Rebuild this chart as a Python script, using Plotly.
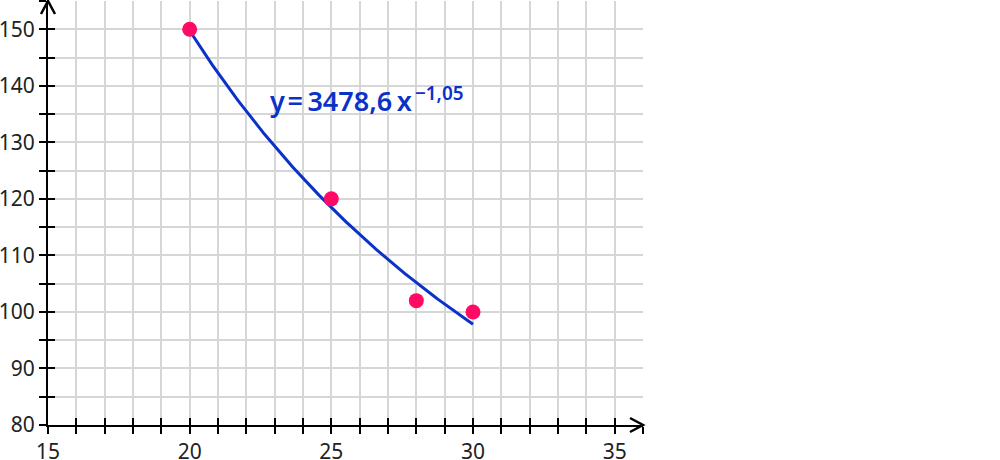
import plotly.graph_objects as go
import numpy as np

# data
x_points = [20, 25, 28, 30]
y_points = [150, 120, 102, 100]
coef_a = 3478.6
coef_b = -1.05
fit_x = np.linspace(20, 30, 200)
fit_y = coef_a * fit_x ** coef_b
x_tickvals = [15, 20, 25, 30, 35]
y_tickvals = [80, 90, 100, 110, 120, 130, 140, 150]

FONT = "Noto Sans"
GRID = "#d6d6d6"
TICKFONT = dict(family=FONT, size=21, color="#222")

fig = go.Figure()
fig.add_trace(go.Scatter(x=fit_x, y=fit_y, mode="lines",
                         line=dict(color="#0a32c8", width=3), hoverinfo="skip"))
fig.add_trace(go.Scatter(x=x_points, y=y_points, mode="markers",
                         marker=dict(color="#ff0a64", size=15), cliponaxis=False))
# invisible trace for overlay axes (inside ticks)
fig.add_trace(go.Scatter(x=[15], y=[80], xaxis="x2", yaxis="y2", mode="markers",
                         marker=dict(opacity=0), hoverinfo="skip"))

fig.update_layout(
    width=1000, height=460,
    margin=dict(l=48, r=357, t=1, b=35, autoexpand=False),
    paper_bgcolor="white", plot_bgcolor="white",
    showlegend=False,
    font=dict(family=FONT, size=16, color="#222"),
    xaxis=dict(range=[15, 36], tickvals=x_tickvals, ticks="outside", ticklen=7,
               tickwidth=2, tickcolor="black", showline=True, linecolor="black",
               linewidth=2, showgrid=True, gridcolor=GRID, gridwidth=1.5,
               zeroline=False, automargin=False,
               minor=dict(dtick=1, tick0=15, ticks="outside", ticklen=7, tickwidth=2,
                          tickcolor="black", showgrid=True, gridcolor=GRID, gridwidth=1.5),
               tickfont=TICKFONT),
    yaxis=dict(range=[80, 155], tickvals=y_tickvals, ticks="outside", ticklen=7,
               tickwidth=2, tickcolor="black", showline=True, linecolor="black",
               linewidth=2, showgrid=True, gridcolor=GRID, gridwidth=1.5,
               zeroline=False, automargin=False,
               minor=dict(dtick=5, tick0=80, ticks="outside", ticklen=7, tickwidth=2,
                          tickcolor="black", showgrid=True, gridcolor=GRID, gridwidth=1.5),
               tickfont=TICKFONT),
    xaxis2=dict(range=[15, 36], overlaying="x", anchor="y2", dtick=1, tick0=15,
                ticks="inside", ticklen=7, tickwidth=2, tickcolor="black",
                showticklabels=False, showgrid=False, zeroline=False, showline=False,
                automargin=False),
    yaxis2=dict(range=[80, 155], overlaying="y", anchor="x2", dtick=5, tick0=80,
                ticks="inside", ticklen=7, tickwidth=2, tickcolor="black",
                showticklabels=False, showgrid=False, zeroline=False, showline=False,
                automargin=False),
)

fig.add_annotation(text="y\u200a=\u20093478,6\u2009x<sup>\u2009−1,05</sup>", x=22.75, y=137.5,
                   xref="x", yref="y", xanchor="left", yanchor="middle", showarrow=False,
                   font=dict(family=FONT, size=27, color="#0a32c8", weight=600))

# arrowheads (open chevrons) in paper coordinates
pw = 1000 - 48 - 357
ph = 460 - 1 - 35
def px_to_paper(dx, dy):
    return dx / pw, dy / ph
ax, ay = px_to_paper(13, 7)
fig.add_shape(type="path", xref="paper", yref="paper",
              path=f"M {1-ax} {ay} L 1 0 L {1-ax} {-ay}",
              line=dict(color="black", width=2.5))
bx, by = px_to_paper(7, 13)
fig.add_shape(type="path", xref="paper", yref="paper",
              path=f"M {-bx} {1-by} L 0 1.0 L {bx} {1-by}",
              line=dict(color="black", width=2.5))

fig.write_html("out.html", config={"displayModeBar": False},
               post_script="document.body.style.margin='0';document.body.style.overflow='hidden';")
